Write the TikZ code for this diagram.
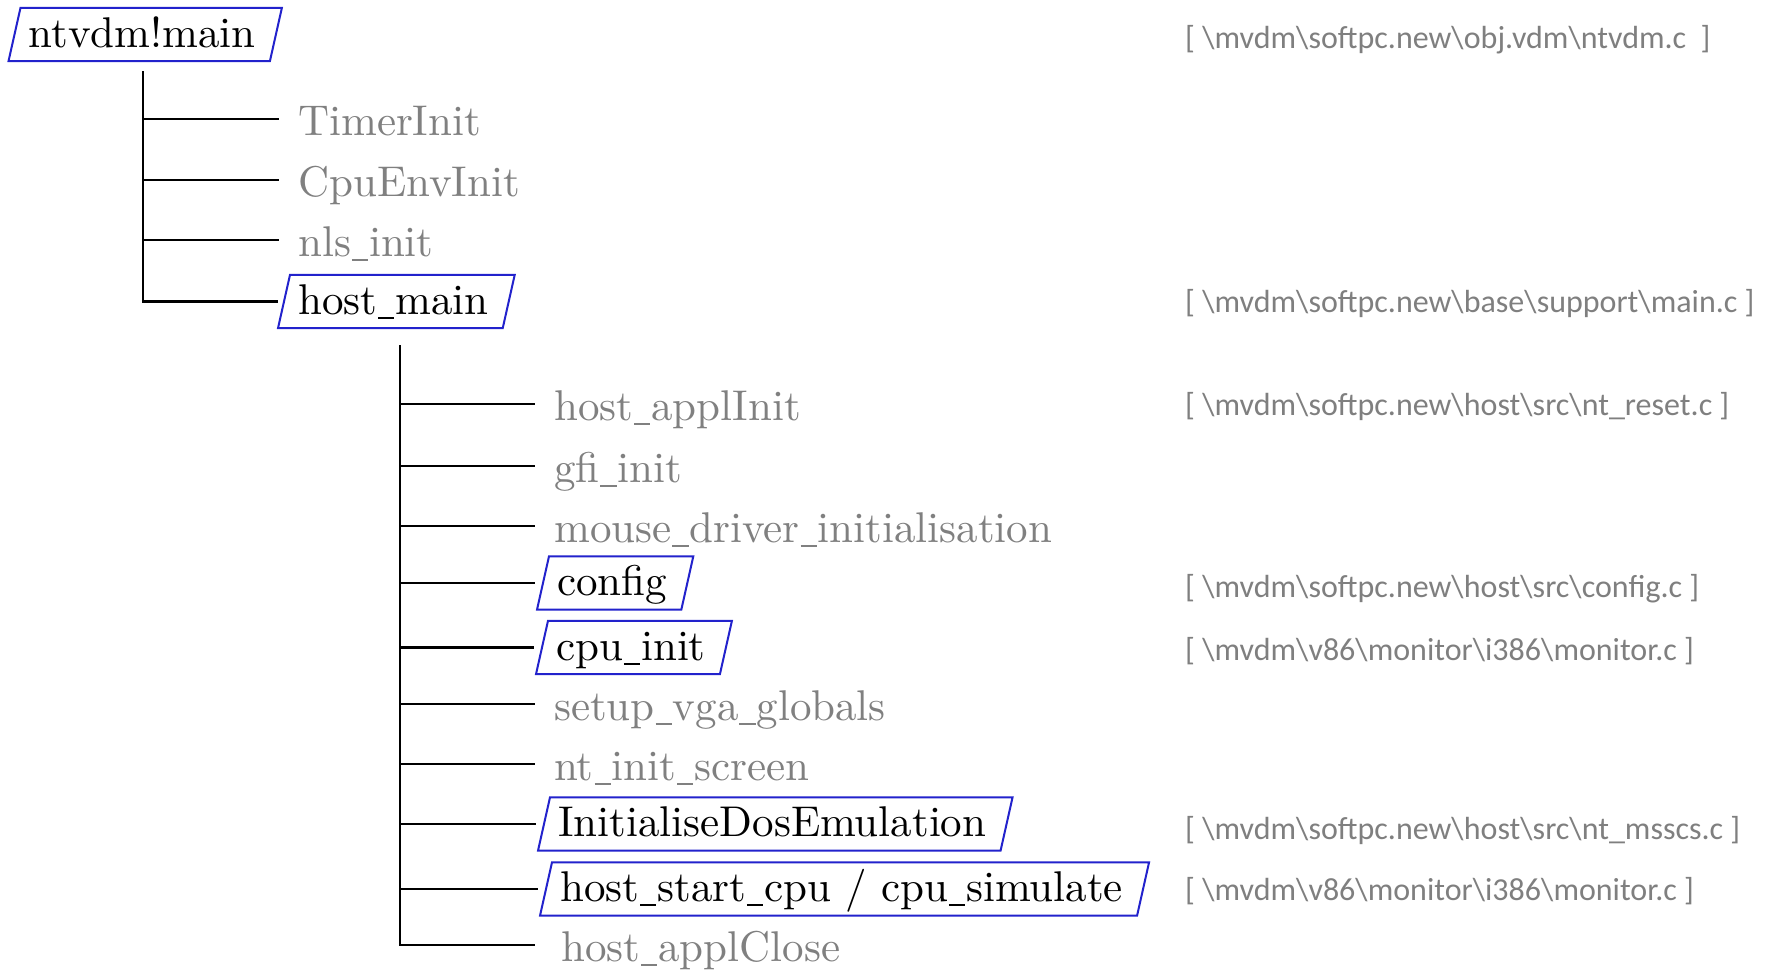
\documentclass[tikz,border=0pt]{standalone}
\usepackage{fontspec}
\setmainfont{lmroman10-regular.otf}
\newfontfamily\carlito{Carlito}
\definecolor{pblue}{RGB}{34,34,204}
\definecolor{leafgray}{RGB}{128,128,128}
\definecolor{srcgray}{RGB}{127,127,127}
\newcommand\mainsz{\fontsize{43}{50}\selectfont}
\newcommand\srcsz{\carlito\fontsize{32}{38}\selectfont}
\newcommand\bs{\textbackslash}
\newcommand\us{\kern0.02em\rule[-0.11em]{0.38em}{0.045em}\kern0.02em}
\newcommand\pgram[1]{\draw[pline] ([xshift=-6pt]#1.south west) -- ([xshift=6pt]#1.north west) -- ([xshift=12pt]#1.north east) -- (#1.south east) -- cycle;}
\begin{document}
\begin{tikzpicture}[x=1pt,y=-1pt,
  conn/.style={line width=2.5pt, draw=black},
  pline/.style={line width=2pt, draw=pblue, line join=miter},
  leaf/.style={anchor=west, inner xsep=19pt, inner ysep=0pt, text height=32pt, text depth=0pt, font=\mainsz, text=leafgray},
  pbox/.style={anchor=west, inner xsep=14pt, inner ysep=0pt, text height=39pt, text depth=14pt, font=\mainsz, text=black},
  src/.style={anchor=west, inner sep=0pt, font=\srcsz, text=srcgray}]
\useasboundingbox (0,0) rectangle (1768,970);
% level 0
\node[pbox] (root) at (14.5,34.5) {ntvdm!main};
\pgram{root}
% level 1
\coordinate (t1) at (143,71);
\node[leaf] (ti)  at (279,119) {TimerInit};
\node[leaf] (cei) at (279,180) {CpuEnvInit};
\node[leaf] (nls) at (279,240) {nls\us init};
\node[pbox] (hm)  at (284,301.5) {host\us main};
\pgram{hm}
\draw[conn] (t1) -- (t1 |- hm.west) -- ([xshift=-6pt]hm.west);
\foreach \n in {ti,cei,nls} \draw[conn] (t1 |- \n.west) -- (\n.west);
% level 2
\coordinate (t2) at (400,345);
\node[leaf] (hai) at (535,404) {host\us applInit};
\node[leaf] (gfi) at (535,466) {gfi\us init};
\node[leaf] (mdi) at (535,526) {mouse\us driver\us initialisation};
\node[pbox] (cfg) at (543,583) {config};
\pgram{cfg}
\node[pbox] (cpu) at (542,647.5) {cpu\us init};
\pgram{cpu}
\node[leaf] (svg) at (535,704) {setup\us vga\us globals};
\node[leaf] (nis) at (535,764) {nt\us init\us screen};
\node[pbox] (ide) at (544,824) {InitialiseDosEmulation};
\pgram{ide}
\node[pbox] (hsc) at (546,889) {host\us start\us cpu / cpu\us simulate};
\pgram{hsc}
\node[leaf, inner xsep=26pt] (hac) at (535,945) {host\us applClose};
\draw[conn] (t2) -- (t2 |- hac.west) -- (hac.west);
\foreach \n in {hai,gfi,mdi,svg,nis} \draw[conn] (t2 |- \n.west) -- (\n.west);
\foreach \n in {cfg,cpu,ide,hsc} \draw[conn] (t2 |- \n.west) -- ([xshift=-8pt]\n.west);
% source files
\node[src] (s1) at (1185,40) {[ \bs mvdm\bs softpc.new\bs obj.vdm\bs ntvdm.c\ \ ]};
\node[src] (s2) at (1185,304) {[ \bs mvdm\bs softpc.new\bs base\bs support\bs main.c ]};
\node[src] (s3) at (1185,407) {[ \bs mvdm\bs softpc.new\bs host\bs src\bs nt\_reset.c ]};
\node[src] (s4) at (1185,589) {[ \bs mvdm\bs softpc.new\bs host\bs src\bs config.c ]};
\node[src] (s5) at (1185,651) {[ \bs mvdm\bs v86\bs monitor\bs i386\bs monitor.c ]};
\node[src] (s6) at (1185,830) {[ \bs mvdm\bs softpc.new\bs host\bs src\bs nt\_msscs.c ]};
\node[src] (s7) at (1185,891) {[ \bs mvdm\bs v86\bs monitor\bs i386\bs monitor.c ]};
\end{tikzpicture}
\end{document}
